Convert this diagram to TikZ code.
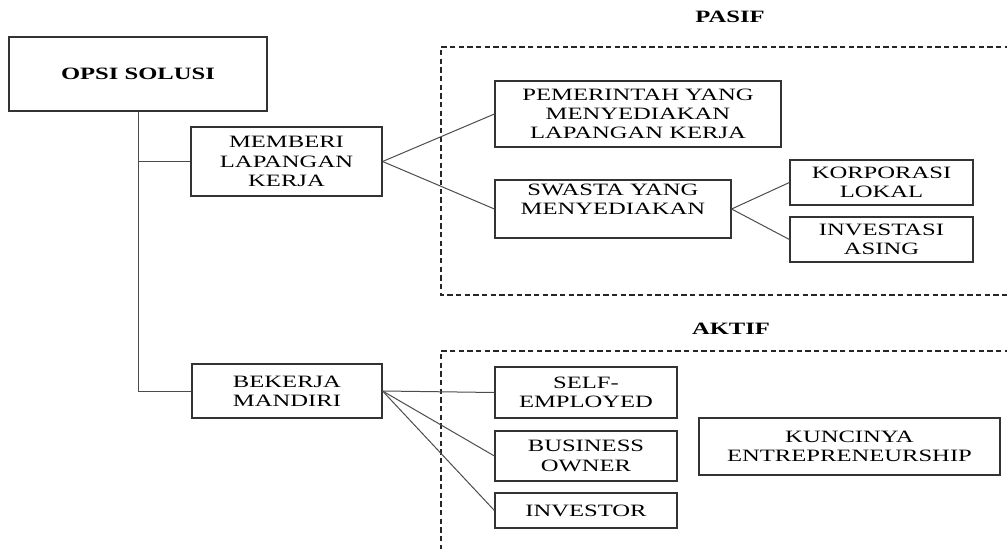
\documentclass[tikz,border=0pt]{standalone}
\usepackage{fontspec}
\setmainfont{Liberation Serif}[FakeStretch=1.42]
\usepackage{tikz}
\tikzstyle{box}=[draw=black!80, line width=0.9pt, align=center, inner sep=0pt, font=\fontsize{13}{14.5}\selectfont]
\tikzstyle{heading}=[font=\fontsize{13}{14.5}\selectfont\bfseries]
\tikzstyle{link}=[draw=black!70, line width=0.75pt]
\tikzstyle{frame}=[draw=black!85, line width=0.8pt, dash pattern=on 4pt off 2.5pt]

\begin{document}
\begin{tikzpicture}[x=0.75pt, y=-0.75pt]
            \useasboundingbox (0,0) rectangle (1007,549);

            \node[box, minimum width=193.5pt, minimum height=55.5pt, font=\fontsize{13}{14.5}\selectfont\bfseries]
                (opsi) at (138,74) {OPSI SOLUSI};
            \node[box, minimum width=143.25pt, minimum height=51.75pt]
                (memberi) at (286.5,161.5) {MEMBERI\\LAPANGAN\\KERJA};
            \node[box, minimum width=142.5pt, minimum height=40.5pt]
                (bekerja) at (287,391) {BEKERJA\\MANDIRI};

            \node[heading] (pasif) at (730,17) {PASIF};
            \draw[frame] (1010,47) -- (441,47) -- (441,295) -- (1010,295);
            \node[box, minimum width=214.5pt, minimum height=49.5pt]
                (pemerintah) at (638,114) {PEMERINTAH YANG\\MENYEDIAKAN\\LAPANGAN KERJA};
            \node[box, minimum width=177pt, minimum height=43.5pt]
                (swasta) at (613,209) {SWASTA YANG\\MENYEDIAKAN\\\mbox{}};
            \node[box, minimum width=137.25pt, minimum height=33.75pt]
                (korporasi) at (881.5,182.5) {KORPORASI\\LOKAL};
            \node[box, minimum width=137.25pt, minimum height=33.75pt]
                (investasi) at (881.5,239.5) {INVESTASI\\ASING};

            \node[heading] (aktif) at (731,329) {AKTIF};
            \draw[frame] (1010,351) -- (441,351) -- (441,552);
            \node[box, minimum width=136.5pt, minimum height=38.25pt]
                (selfemployed) at (586,392.5) {SELF-\\EMPLOYED};
            \node[box, minimum width=136.5pt, minimum height=37.5pt]
                (business) at (586,456) {BUSINESS\\OWNER};
            \node[box, minimum width=136.5pt, minimum height=26.25pt]
                (investor) at (586,510.5) {INVESTOR};
            \node[box, minimum width=225.75pt, minimum height=42.75pt]
                (kuncinya) at (849.5,446.5) {KUNCINYA\\ENTREPRENEURSHIP};

            \draw[link] (opsi.south) |- (bekerja.west);
            \draw[link] (opsi.south |- memberi.west) -- (memberi.west);
            \draw[link] (memberi.east) -- (pemerintah.west);
            \draw[link] (memberi.east) -- (swasta.west);
            \draw[link] (swasta.east) -- (korporasi.west);
            \draw[link] (swasta.east) -- (investasi.west);
            \draw[link] (bekerja.east) -- (selfemployed.west);
            \draw[link] (bekerja.east) -- (business.west);
            \draw[link] (bekerja.east) -- (investor.west);
        \end{tikzpicture}
\end{document}
